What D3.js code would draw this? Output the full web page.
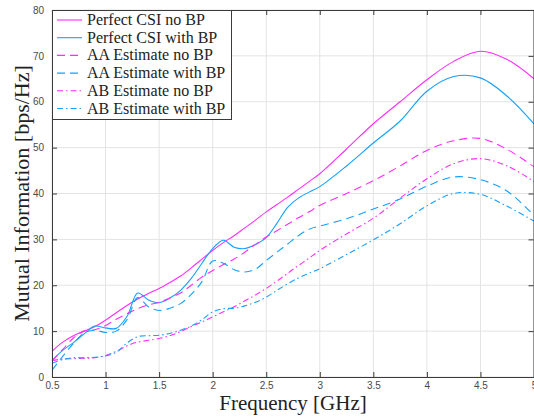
<!DOCTYPE html>
<html>
<head>
<meta charset="utf-8">
<script src="https://cdn.jsdelivr.net/npm/d3@7"></script>
<style>
  body { margin: 0; background: #fff; }
  svg { display: block; }
</style>
</head>
<body>
<div id="chart"></div>
<script>
// frequency grid (GHz) the values were read at
var freq = [0.5, 0.6, 0.7, 0.8, 0.9, 1.0, 1.1, 1.2, 1.3, 1.4, 1.5, 1.6, 1.7, 1.8, 1.9,
            2.0, 2.1, 2.2, 2.3, 2.4, 2.5, 2.6, 2.7, 2.8, 2.9, 3.0,
            3.25, 3.5, 3.75, 4.0, 4.25, 4.5, 4.75, 5.0];

var perfectNoBP = [5.6, 7.6, 9.0, 10.0, 11.0, 12.4, 14.0, 15.6, 17.0, 18.2, 19.3, 20.6, 22.0, 23.8, 25.7,
                   27.6, 29.3, 30.8, 32.5, 34.2, 36.0, 37.6, 39.2, 40.9, 42.6, 44.3,
                   49.7, 55.2, 60.0, 64.8, 68.8, 71.0, 69.2, 65.0];
var perfectBP   = [3.6, 5.8, 7.5, 9.4, 11.1, 10.7, 10.6, 13.2, 18.3, 16.8, 16.2, 17.2, 18.9, 21.5, 24.8,
                   28.0, 29.8, 28.3, 28.0, 28.9, 30.4, 33.5, 37.0, 39.0, 40.3, 41.5,
                   46.0, 51.0, 55.8, 62.3, 65.5, 65.2, 61.2, 55.2];
var aaNoBP      = [3.5, 6.0, 8.5, 10.0, 10.3, 11.2, 12.6, 13.8, 14.9, 15.7, 16.3, 17.2, 18.3, 20.0, 21.8,
                   23.2, 24.5, 25.7, 27.2, 28.9, 30.5, 31.9, 33.3, 34.7, 36.0, 37.4,
                   40.0, 42.8, 46.0, 49.4, 51.5, 52.0, 49.6, 45.8];
var aaBP        = [1.5, 4.5, 7.3, 9.6, 10.2, 9.7, 10.0, 12.5, 17.3, 15.3, 14.5, 15.0, 16.0, 18.0, 20.8,
                   25.3, 24.8, 23.4, 22.9, 23.5, 25.4, 27.2, 29.0, 30.8, 32.2, 32.9,
                   34.5, 36.6, 38.8, 41.6, 43.6, 43.0, 40.5, 35.2];
var abNoBP      = [3.6, 3.9, 4.0, 4.1, 4.2, 4.7, 5.6, 6.8, 7.6, 8.0, 8.4, 9.0, 9.9, 11.0, 12.0,
                   13.1, 14.2, 15.3, 16.6, 17.9, 19.3, 20.9, 22.6, 24.3, 25.9, 27.6,
                   31.2, 34.6, 39.0, 43.2, 46.5, 47.6, 46.0, 42.6];
var abBP        = [3.0, 3.8, 4.2, 4.2, 4.3, 4.6, 5.4, 7.4, 8.8, 9.0, 9.1, 9.5, 10.2, 11.1, 12.5,
                   14.2, 14.9, 15.0, 15.5, 16.3, 17.4, 18.9, 20.3, 21.6, 22.6, 23.6,
                   26.7, 29.9, 33.4, 37.3, 40.0, 39.8, 37.2, 34.0];

var seriesNames = ['Perfect CSI no BP', 'Perfect CSI with BP', 'AA Estimate no BP',
                   'AA Estimate with BP', 'AB Estimate no BP', 'AB Estimate with BP'];
var seriesValues = [perfectNoBP, perfectBP, aaNoBP, aaBP, abNoBP, abBP];

var xTicks = [0.5, 1, 1.5, 2, 2.5, 3, 3.5, 4, 4.5, 5];
var xTickLabels = ['0.5', '1', '1.5', '2', '2.5', '3', '3.5', '4', '4.5', '5'];
var yTicks = [0, 10, 20, 30, 40, 50, 60, 70, 80];

var magenta = '#ff2bff', blue = '#14a0ff';
var colors = [magenta, blue, magenta, blue, magenta, blue];
var dashes = [null, null, '8,5', '8,5', '6,3,1.5,3', '6,3,1.5,3'];

var serif = '"Liberation Serif", "Times New Roman", serif';

// set the dimensions and margins of the graph
var margin = {top: 10, right: 0, bottom: 42, left: 52},
    width = 534 - margin.left - margin.right,
    height = 419 - margin.top - margin.bottom;

var svg = d3.select('#chart')
    .append('svg')
    .attr('width', 534)
    .attr('height', 419)
    .append('g')
    .attr('transform', 'translate(' + margin.left + ',' + margin.top + ')');

var x = d3.scaleLinear().domain([0.5, 5]).range([0, width]);
var y = d3.scaleLinear().domain([0, 80]).range([height, 0]);

// grid
svg.append('g')
    .selectAll('line')
    .data(xTicks)
    .enter().append('line')
    .attr('x1', function(d) { return x(d); })
    .attr('x2', function(d) { return x(d); })
    .attr('y1', 0).attr('y2', height)
    .attr('stroke', '#e3e3e3');
svg.append('g')
    .selectAll('line')
    .data(yTicks)
    .enter().append('line')
    .attr('y1', function(d) { return y(d); })
    .attr('y2', function(d) { return y(d); })
    .attr('x1', 0).attr('x2', width)
    .attr('stroke', '#e3e3e3');

// clip
svg.append('defs').append('clipPath')
    .attr('id', 'clip')
    .append('rect')
    .attr('width', width)
    .attr('height', height);

var line = d3.line()
    .curve(d3.curveCatmullRom.alpha(0.5))
    .x(function(d) { return x(d[0]); })
    .y(function(d) { return y(d[1]); });

var plot = svg.append('g').attr('clip-path', 'url(#clip)');
seriesValues.forEach(function(vals, i) {
    plot.append('path')
        .datum(freq.map(function(f, k) { return [f, vals[k]]; }))
        .attr('fill', 'none')
        .attr('stroke', colors[i])
        .attr('stroke-width', 1.1)
        .attr('stroke-dasharray', dashes[i])
        .attr('d', line);
});

// axes (ticks inward on all four sides)
svg.append('g')
    .attr('transform', 'translate(0,' + height + ')')
    .call(d3.axisBottom(x).tickValues(xTicks).tickSizeInner(-5).tickSizeOuter(0)
        .tickPadding(5).tickFormat(function(d, i) { return xTickLabels[i]; }));
svg.append('g')
    .call(d3.axisLeft(y).tickValues(yTicks).tickSizeInner(-5).tickSizeOuter(0).tickPadding(8));
svg.append('g')
    .call(d3.axisTop(x).tickValues(xTicks).tickSizeInner(-5).tickSizeOuter(0).tickFormat(''));
svg.append('g')
    .attr('transform', 'translate(' + (width - 0.5) + ',0)')
    .call(d3.axisRight(y).tickValues(yTicks).tickSizeInner(-5).tickSizeOuter(0).tickFormat(''));

svg.selectAll('.domain').attr('stroke', '#3a3a3a');
svg.selectAll('.tick line').attr('stroke', '#3a3a3a');
svg.selectAll('.tick text')
    .attr('font-family', '"Liberation Sans", Arial, sans-serif')
    .attr('font-size', 10)
    .attr('fill', '#4a4a4a');

// axis labels
svg.append('text')
    .attr('x', width / 2)
    .attr('y', height + 33)
    .attr('text-anchor', 'middle')
    .attr('font-family', serif)
    .attr('font-size', 21)
    .attr('fill', '#222')
    .text('Frequency [GHz]');

svg.append('text')
    .attr('transform', 'translate(' + (-23) + ',' + (height / 2) + ') rotate(-90)')
    .attr('text-anchor', 'middle')
    .attr('font-family', serif)
    .attr('font-size', 22)
    .attr('fill', '#222')
    .text('Mutual Information [bps/Hz]');

// legend
var legend = svg.append('g');
legend.append('rect')
    .attr('x', 0.5).attr('y', 0.5)
    .attr('width', 179).attr('height', 109)
    .attr('fill', '#fff')
    .attr('stroke', '#3a3a3a');

var rowH = 17.7;
legend.selectAll('line.key')
    .data(seriesNames)
    .enter().append('line')
    .attr('class', 'key')
    .attr('x1', 5).attr('x2', 30)
    .attr('y1', function(d, i) { return 10 + i * rowH; })
    .attr('y2', function(d, i) { return 10 + i * rowH; })
    .attr('stroke', function(d, i) { return colors[i]; })
    .attr('stroke-width', 1.1)
    .attr('stroke-dasharray', function(d, i) { return dashes[i]; });

legend.selectAll('text.key')
    .data(seriesNames)
    .enter().append('text')
    .attr('class', 'key')
    .attr('x', 35)
    .attr('y', function(d, i) { return 15 + i * rowH; })
    .attr('font-family', serif)
    .attr('font-size', 16)
    .attr('fill', '#222')
    .text(function(d) { return d; });
</script>
</body>
</html>
